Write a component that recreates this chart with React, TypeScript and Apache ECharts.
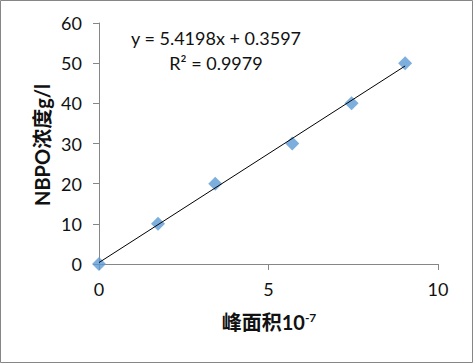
import React, { useEffect, useRef } from "react";
import * as echarts from "echarts";

const xValues = [0, 1.74, 3.43, 5.7, 7.45, 9.03];
const yValues = [0, 10, 20, 30, 40, 50];
const slope = 5.4198;
const intercept = 0.3597;
const r2 = 0.9979;
const xTicks = { min: 0, max: 10, interval: 5 };
const yTicks = { min: 0, max: 60, interval: 10 };

const FONT = "Lato, 'Noto Sans CJK SC', sans-serif";

export default function App() {
  const ref = useRef<HTMLDivElement>(null);
  useEffect(() => {
    const chart = echarts.init(ref.current!, null, { renderer: "svg" });
    const pts = xValues.map((x, i) => [x, yValues[i]]);
    const x0 = xValues[0];
    const x1 = xValues[xValues.length - 1];
    const trend = [
      [x0, slope * x0 + intercept],
      [x1, slope * x1 + intercept],
    ];
    const axisColor = "#868686";
    chart.setOption({
      animation: false,
      backgroundColor: "#fff",
      grid: { left: 99, right: 35, top: 23, bottom: 99, containLabel: false },
      xAxis: {
        type: "value",
        ...xTicks,
        axisLine: { show: true, lineStyle: { color: axisColor, width: 1 } },
        axisTick: { show: true, length: 6, lineStyle: { color: axisColor } },
        splitLine: { show: false },
        axisLabel: { margin: 16, color: "#111", fontSize: 18, fontFamily: FONT },
      },
      yAxis: {
        type: "value",
        ...yTicks,
        axisLine: { show: true, lineStyle: { color: axisColor, width: 1 } },
        axisTick: { show: true, length: 6, lineStyle: { color: axisColor } },
        splitLine: { show: false },
        axisLabel: { margin: 17, color: "#111", fontSize: 18, fontFamily: FONT },
      },
      series: [
        {
          type: "scatter",
          data: pts,
          symbol: "diamond",
          symbolSize: 14,
          itemStyle: { color: "#5B9BD5" },
          z: 2,
        },
        {
          type: "line",
          data: trend,
          showSymbol: false,
          symbol: "none",
          lineStyle: { color: "#000", width: 1 },
          z: 3,
          silent: true,
        },
      ],
      graphic: [
        {
          type: "rect",
          shape: { x: 0.5, y: 0.5, width: 472, height: 362 },
          style: { fill: "none", stroke: axisColor, lineWidth: 1 },
          silent: true,
        },
        {
          type: "text",
          x: 216,
          y: 38,
          style: {
            text: `y = ${slope}x + ${intercept}`,
            font: `18px ${FONT}`,
            fill: "#111",
            textAlign: "center",
            textVerticalAlign: "middle",
          },
        },
        {
          type: "text",
          x: 216,
          y: 63,
          style: {
            text: `R² = ${r2}`,
            font: `18px ${FONT}`,
            fill: "#111",
            textAlign: "center",
            textVerticalAlign: "middle",
          },
        },
        {
          type: "text",
          x: 42,
          y: 145,
          rotation: Math.PI / 2,
          style: {
            text: "NBPO浓度g/l",
            font: `bold 20px ${FONT}`,
            fill: "#111",
            textAlign: "center",
            textVerticalAlign: "middle",
          },
        },
        {
          type: "text",
          x: 269,
          y: 322,
          style: {
            text: "{a|峰面积10}{s|-7}",
            textAlign: "center",
            textVerticalAlign: "middle",
            rich: {
              a: { fontSize: 20, fontWeight: "bold", fontFamily: FONT, fill: "#111", color: "#111" },
              s: { fontSize: 12, fontWeight: "bold", fontFamily: FONT, fill: "#111", color: "#111", verticalAlign: "top", padding: [0, 0, 9, 0] },
            },
          },
        },
      ],
    });
    return () => chart.dispose();
  }, []);
  return (
    <div
      ref={ref}
      style={{ position: "fixed", left: 0, top: 0, width: 473, height: 363 }}
    />
  );
}
